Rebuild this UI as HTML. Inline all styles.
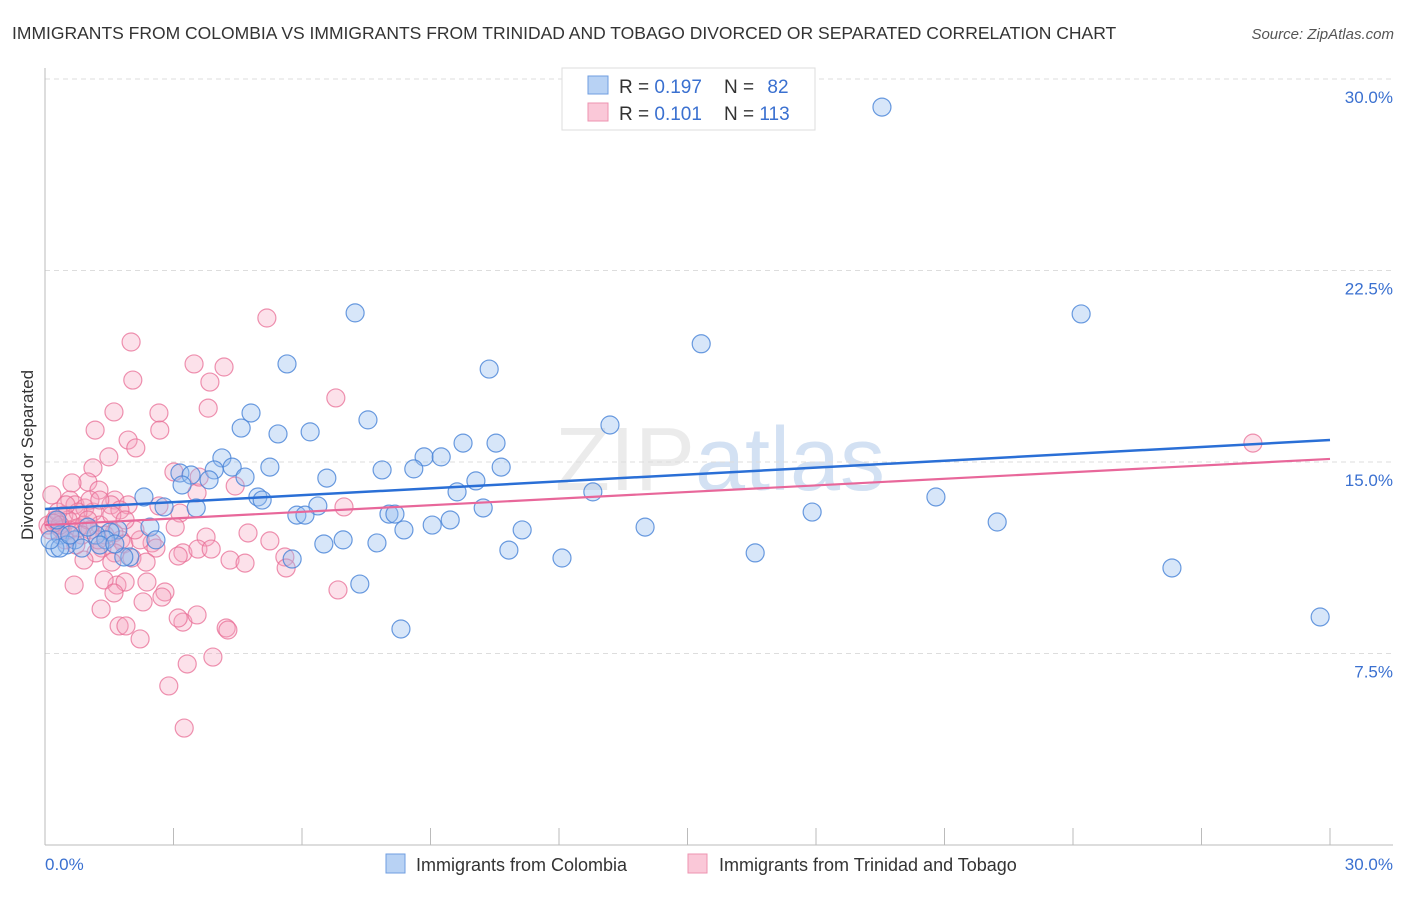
<!DOCTYPE html>
<html><head><meta charset="utf-8"><style>
body{margin:0;background:#fff;font-family:"Liberation Sans",sans-serif;}
svg text{font-family:"Liberation Sans",sans-serif;}
</style></head><body>
<svg id="chart" width="1406" height="892" viewBox="0 0 1406 892" xmlns="http://www.w3.org/2000/svg">
<text x="12" y="39" font-size="17.5" fill="#333">IMMIGRANTS FROM COLOMBIA VS IMMIGRANTS FROM TRINIDAD AND TOBAGO DIVORCED OR SEPARATED CORRELATION CHART</text>
<text x="1394" y="39" font-size="15" fill="#555" font-style="italic" text-anchor="end">Source: ZipAtlas.com</text>
<text x="720" y="490" font-size="90" fill="#d8d8d8" fill-opacity="0.5" text-anchor="middle" font-family="Liberation Serif">ZIP<tspan fill="#a8c4e8">atlas</tspan></text>
<g id="grid"></g>
<g id="axes"></g>
<g id="pts"></g>
<g id="trends"></g>
<text transform="translate(33,455) rotate(-90)" font-size="17" fill="#333" text-anchor="middle">Divorced or Separated</text>
<text x="45" y="870" font-size="17" fill="#3a70d0">0.0%</text>
<text x="1393" y="870" font-size="17" fill="#3a70d0" text-anchor="end">30.0%</text>
<g>
<rect x="562" y="68" width="253" height="62" fill="#fff" stroke="#ddd"/>
<rect x="588" y="76" width="20" height="18" fill="#b8d2f4" stroke="#6f9ee0"/>
<rect x="588" y="103" width="20" height="18" fill="#fac8d8" stroke="#ee93b0"/>
<text x="619" y="93" font-size="19" fill="#333">R = <tspan fill="#3a70d0">0.197</tspan></text>
<text x="724" y="93" font-size="19" fill="#333">N = <tspan fill="#3a70d0" dx="8">82</tspan></text>
<text x="619" y="120" font-size="19" fill="#333">R = <tspan fill="#3a70d0">0.101</tspan></text>
<text x="724" y="120" font-size="19" fill="#333">N = <tspan fill="#3a70d0">113</tspan></text>
</g>
<g>
<rect x="386" y="854" width="19" height="19" fill="#b8d2f4" stroke="#6f9ee0"/>
<text x="416" y="871" font-size="18" fill="#333">Immigrants from Colombia</text>
<rect x="688" y="854" width="19" height="19" fill="#fac8d8" stroke="#ee93b0"/>
<text x="719" y="871" font-size="18" fill="#333">Immigrants from Trinidad and Tobago</text>
</g>
</svg>
<script>
const blueX=[19.54,7.24,24.19,15.32,5.65,10.37,4.81,7.54,13.19,4.58,5.44,6.19,10.53,9.76,8.85,9.25,4.13,3.95,5.25,3.15,4.37,3.41,4.67,7.87,8.61,10.65,6.58,3.83,3.20,10.06,9.62,12.79,20.80,2.31,4.97,5.07,6.37,2.78,3.53,10.23,5.88,6.07,8.03,8.17,17.91,9.46,9.04,22.23,14.01,11.14,2.45,1.70,8.38,1.52,1.19,0.35,0.70,0.51,6.96,6.51,7.75,2.59,1.42,10.83,16.58,12.07,5.77,1.98,1.84,0.23,0.35,26.31,7.35,29.77,8.31,1.00,0.58,1.28,0.86,0.12,0.28,1.63];
const blueY=[28.90,20.84,20.80,19.63,18.84,18.64,16.92,16.65,16.45,16.33,16.10,16.18,15.74,15.74,15.20,15.20,15.16,14.69,14.80,14.57,14.80,14.49,14.41,14.69,14.73,14.80,14.37,14.30,14.10,14.26,13.83,13.83,13.63,13.63,13.63,13.51,13.28,13.24,13.20,13.20,12.92,12.92,12.96,12.96,13.04,12.73,12.53,12.65,12.45,12.34,12.45,12.34,12.34,12.26,12.14,12.14,11.95,11.75,11.95,11.79,11.83,11.95,11.95,11.55,11.44,11.24,11.20,11.28,11.28,11.63,11.63,10.85,10.22,8.93,8.46,12.45,12.14,11.75,11.63,11.95,12.73,11.79];
const pinkX=[5.18,2.01,3.48,4.18,2.05,3.85,6.79,3.81,1.61,2.66,1.17,2.68,1.94,2.12,1.49,1.12,4.44,1.00,1.26,0.63,3.55,1.63,0.16,0.58,0.70,0.93,1.12,1.54,1.94,2.66,1.75,3.15,0.44,0.77,0.54,0.26,0.91,1.28,0.07,0.35,1.05,1.61,1.77,3.04,3.76,2.50,4.74,5.25,1.33,1.84,1.19,1.63,2.59,2.03,3.22,3.57,3.88,3.11,4.32,4.67,5.60,1.56,0.91,2.36,5.63,6.84,0.68,1.68,1.38,1.87,2.38,2.80,1.61,2.29,2.73,1.31,3.22,3.55,3.11,4.23,4.27,1.73,1.89,2.22,3.92,3.32,2.89,3.25,28.20,0.47,0.58,0.23,0.30,0.40,0.12,0.77,1.00,1.40,2.22,0.49,1.56,0.86,0.72,1.05,1.24,2.10,1.28,1.87,0.35,6.98,3.01,3.60,0.20];
const pinkY=[20.64,19.70,18.84,18.72,18.21,18.13,17.51,17.11,16.96,16.92,16.25,16.25,15.86,15.55,15.20,14.77,14.06,14.22,13.90,14.18,13.79,13.51,13.71,13.51,13.32,13.20,13.04,13.32,13.32,13.28,13.12,13.00,12.92,13.04,12.73,12.65,12.53,12.53,12.53,12.42,12.34,12.22,11.95,12.45,12.06,11.83,12.22,11.91,11.63,11.79,11.44,11.44,11.63,11.24,11.44,11.59,11.59,11.32,11.16,11.04,11.28,11.08,11.16,11.08,10.85,9.99,10.18,10.18,10.38,10.30,10.30,9.91,9.87,9.52,9.71,9.24,8.73,9.01,8.89,8.50,8.42,8.58,8.58,8.07,7.36,7.09,6.23,4.58,15.74,11.95,12.34,12.73,13.04,12.34,12.34,12.42,12.73,12.14,11.95,13.32,12.92,12.14,11.75,13.51,11.95,12.34,13.51,12.73,12.53,13.24,14.61,14.41,12.60];
const yTicks=[7.5,15,22.5,30];
const yTickLabels=["7.5%","15.0%","22.5%","30.0%"];
const xTicks=[0,3,6,9,12,15,18,21,24,27,30];
const blueTrend=[13.16,15.86];
const pinkTrend=[12.53,15.12];

const NS="http://www.w3.org/2000/svg";
const X0=45,X1=1330,Y0=845,PXPER=25.533;
function sx(v){return X0+(X1-X0)*v/30;}
function sy(v){return Y0-v*PXPER;}
function mk(tag,attrs,parent){const e=document.createElementNS(NS,tag);for(const k in attrs)e.setAttribute(k,attrs[k]);parent.appendChild(e);return e;}
const grid=document.getElementById('grid'),axes=document.getElementById('axes'),pts=document.getElementById('pts'),trends=document.getElementById('trends');
yTicks.forEach((t,i)=>{
  const l=mk('line',{x1:45,x2:1393,y1:sy(t),y2:sy(t),stroke:'#ddd','stroke-dasharray':'5,4'},grid);
  
  
  const tx=mk('text',{x:1393,y:sy(t)+24,'font-size':17,fill:'#3a70d0','text-anchor':'end'},grid);
  tx.textContent=yTickLabels[i];
  
  
});
const ya=mk('line',{x1:45,x2:45,y1:68,y2:845,stroke:'#bbb'},axes);


const xa=mk('line',{x1:45,x2:1393,y1:845,y2:845,stroke:'#bbb'},axes);


xTicks.forEach(t=>{
  const l=mk('line',{x1:sx(t),x2:sx(t),y1:828,y2:845,stroke:'#bbb'},axes);
  
  
});
function drawSeries(xs,ys,fill,stroke,name){
  xs.forEach((v,i)=>{
    const c=mk('circle',{cx:sx(v),cy:sy(ys[i]),r:9,fill:fill,stroke:stroke,'stroke-width':1.2},pts);
    
    
  });
}
drawSeries(pinkX,pinkY,'rgba(245,165,192,0.33)','rgba(232,110,150,0.75)','point-trinidad');
drawSeries(blueX,blueY,'rgba(150,190,240,0.38)','rgba(70,130,215,0.8)','point-colombia');
const bt=mk('line',{x1:sx(0),y1:sy(blueTrend[0]),x2:sx(30),y2:sy(blueTrend[1]),stroke:'#2a6fd6','stroke-width':2.5},trends);


const pt=mk('line',{x1:sx(0),y1:sy(pinkTrend[0]),x2:sx(30),y2:sy(pinkTrend[1]),stroke:'#e8679a','stroke-width':2.2},trends);


</script>
</body></html>
